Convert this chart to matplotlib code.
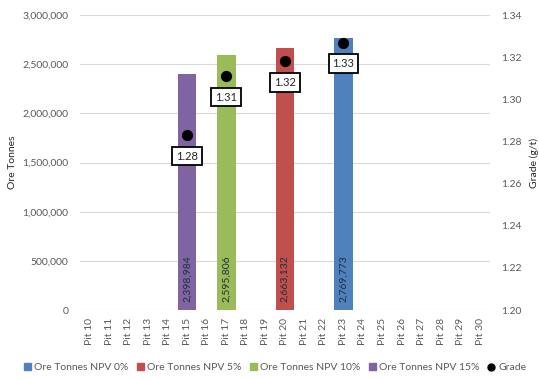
import matplotlib.pyplot as plt
from matplotlib.patches import Patch
from matplotlib.lines import Line2D
import numpy as np

plt.rcParams['font.family'] = ['Lato', 'DejaVu Sans']

pits = ['Pit %d' % n for n in range(10, 31)]

# one bar per NPV case, each sitting on its own pit
series_names = ['Ore Tonnes NPV 0%', 'Ore Tonnes NPV 5%', 'Ore Tonnes NPV 10%', 'Ore Tonnes NPV 15%']
series_pits = ['Pit 23', 'Pit 20', 'Pit 17', 'Pit 15']
series_tonnes = [2769773, 2663132, 2595806, 2398984]
series_colors = ['#4F81BD', '#C0504D', '#9BBB59', '#8064A2']

grade_pits = ['Pit 15', 'Pit 17', 'Pit 20', 'Pit 23']
grade_values = [1.283, 1.311, 1.318, 1.327]

txt = '#595959'

fig = plt.figure(figsize=(5.39, 3.79), dpi=100)
ax = fig.add_axes([0.148, 0.182, 0.761, 0.778])
ax2 = ax.twinx()

x = np.arange(len(pits))
for name, pit, t, c in zip(series_names, series_pits, series_tonnes, series_colors):
    i = pits.index(pit)
    ax.bar(i, t, width=0.95, color=c, zorder=2)
    ax.text(i, 80000, f'{t:,}', rotation=90, ha='center', va='bottom',
            fontsize=7.5, color='#1f2d3d', zorder=3)

ax.set_xlim(-0.5, len(pits) - 0.5)
ax.set_ylim(0, 3000000)
ax.set_yticks(np.arange(0, 3000001, 500000))
ax.set_yticklabels([f'{v:,}' for v in range(0, 3000001, 500000)])
ax.set_xticks(x)
ax.set_xticklabels(pits, rotation=90)
ax.grid(axis='y', color='#d9d9d9', linewidth=0.8, zorder=0)
ax.set_axisbelow(True)
ax.set_ylabel('Ore Tonnes', fontsize=7.5, color='#262626', labelpad=4)

gx = [pits.index(p) for p in grade_pits]
ax2.scatter(gx, grade_values, s=50, color='black', zorder=5)
for xi, g in zip(gx, grade_values):
    ax2.annotate(f'{g:.2f}', (xi, g), xytext=(0, -15), textcoords='offset points',
                 ha='center', va='center', fontsize=8, color='#262626',
                 bbox=dict(boxstyle='square,pad=0.35', fc='white', ec='black', lw=1.3),
                 zorder=6)
ax2.set_ylim(1.20, 1.34)
ax2.set_yticks(np.arange(1.20, 1.341, 0.02))
ax2.set_yticklabels([f'{v:.2f}' for v in np.arange(1.20, 1.341, 0.02)])
ax2.set_ylabel('Grade (g/t)', fontsize=7.5, color='#262626', labelpad=6)

for a in (ax, ax2):
    for s in a.spines.values():
        s.set_visible(False)
    a.tick_params(length=0, labelsize=7.5, colors=txt)
ax.tick_params(axis='x', pad=6)
ax.tick_params(axis='y', pad=8)
ax2.tick_params(axis='y', pad=8)

handles = [Patch(color=c) for c in series_colors]
handles.append(Line2D([], [], marker='o', color='black', linestyle='none', markersize=5))
fig.legend(handles, series_names + ['Grade'], loc='center', bbox_to_anchor=(0.51, 0.03),
           ncol=5, frameon=False, fontsize=7.5, handlelength=0.7, handleheight=0.7,
           handletextpad=0.3, columnspacing=0.8, labelcolor=txt)

fig.savefig('out.png', dpi=100)
